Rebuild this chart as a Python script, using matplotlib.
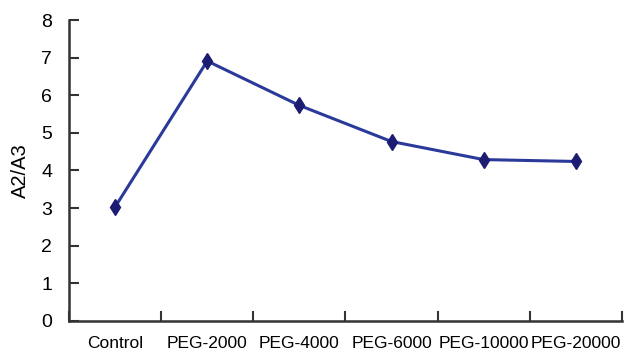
import matplotlib.pyplot as plt
import numpy as np

categories = ["Control", "PEG-2000", "PEG-4000", "PEG-6000", "PEG-10000", "PEG-20000"]
ratio = [3.03, 6.91, 5.73, 4.77, 4.29, 4.24]

plt.rcParams['font.family'] = ['Liberation Sans', 'DejaVu Sans']

fig = plt.figure(figsize=(6.24, 3.51), dpi=100)
ax = fig.add_axes([0.1106, 0.0855, 0.886, 0.8575])

x = np.arange(len(categories))
ax.plot(x, ratio, color="#2b3a9a", linewidth=2.2, marker="d", markersize=8,
        markerfacecolor="#1c1c72", markeredgecolor="#1c1c72")

ax.set_xlim(-0.5, len(categories) - 0.5)
ax.set_ylim(0, 8)
ax.set_yticks(range(0, 9))

# ticks at the category boundaries, labels in the middle
ax.set_xticks(np.arange(-0.5, len(categories), 1.0))
ax.set_xticklabels([])
ax.set_xticks(x, minor=True)
ax.set_xticklabels(categories, minor=True, fontsize=12.5)
ax.tick_params(axis="x", which="minor", length=0, pad=11)
ax.tick_params(axis="x", which="major", direction="in", length=7, width=1.5, color="#333333")
ax.tick_params(axis="y", direction="in", length=7, width=1.5, color="#333333", labelsize=14, pad=12)

for s in ["top", "right"]:
    ax.spines[s].set_visible(False)
for s in ["left", "bottom"]:
    ax.spines[s].set_linewidth(1.8)
    ax.spines[s].set_color("#333333")

ax.set_ylabel("A2/A3", fontsize=14.5, labelpad=8)

plt.savefig("out.png", dpi=100)
